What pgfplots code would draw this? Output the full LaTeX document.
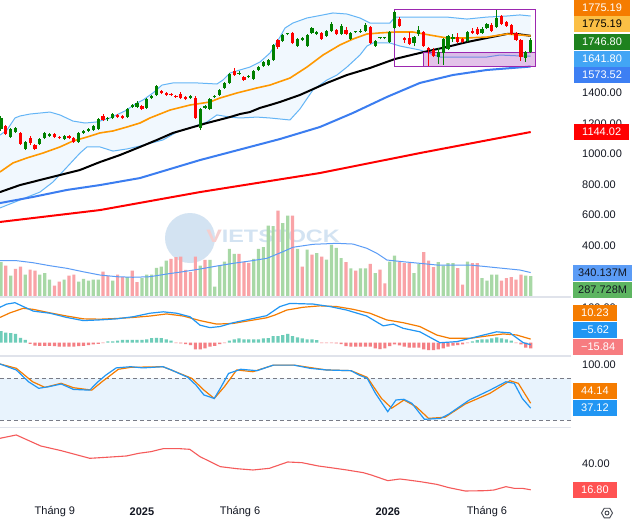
\documentclass[border=0pt]{standalone}
\usepackage{fontspec}
\setmainfont{Liberation Sans}
\usepackage{pgfplots}
\pgfplotsset{compat=1.18}
\usepackage{pgfplotstable}

\definecolor{cgreen}{HTML}{008000}
\definecolor{cred}{HTML}{FF0000}
\definecolor{bbline}{HTML}{64B5F6}
\definecolor{bbfill}{HTML}{F1F8FE}
\definecolor{maorange}{HTML}{FF9800}
\definecolor{mablue}{HTML}{3B7DF0}
\definecolor{mared}{HTML}{FF0000}
\definecolor{volg}{HTML}{A8D8A6}
\definecolor{volr}{HTML}{F9A3A7}
\definecolor{volma}{HTML}{5B9CF6}
\definecolor{histg}{HTML}{6ECDB9}
\definecolor{histr}{HTML}{F47F84}
\definecolor{macdb}{HTML}{2196F3}
\definecolor{macdo}{HTML}{F57C00}
\definecolor{stfill}{HTML}{E8F3FD}
\definecolor{rsired}{HTML}{F55A5A}
\definecolor{dashc}{HTML}{787B86}
\definecolor{sepc}{HTML}{E0E3EB}
\definecolor{tickc}{HTML}{131722}
\definecolor{purp}{HTML}{9C27B0}
\definecolor{lblyel}{HTML}{FBBF45}
\definecolor{lblgreen}{HTML}{1E821E}
\definecolor{lbllb}{HTML}{42A5F5}
\definecolor{lblblue}{HTML}{3D7FF3}
\definecolor{lblvol}{HTML}{5B9CF6}
\definecolor{lblvolg}{HTML}{5DB561}
\definecolor{lblpink}{HTML}{F77C80}
\definecolor{lblrsi}{HTML}{FF5252}
\definecolor{wmblue}{HTML}{D3E3F2}
\definecolor{wmred}{HTML}{F5CFCF}

\pgfplotstableread[row sep=\\]{
x o h l c\\
0 1164 1249 1151 1236\\
2 1111 1170 1105 1164\\
3 1144 1177 1138 1170\\
5 1033 1085 1026 1078\\
8 1065 1105 1059 1098\\
9 1105 1144 1098 1138\\
10 1118 1138 1111 1131\\
13 1098 1124 1092 1118\\
16 1078 1144 1072 1138\\
17 1138 1157 1131 1151\\
18 1151 1170 1144 1164\\
19 1157 1190 1151 1183\\
20 1164 1236 1157 1229\\
22 1229 1242 1216 1236\\
23 1236 1269 1229 1262\\
26 1242 1302 1236 1295\\
27 1308 1328 1302 1321\\
28 1308 1348 1302 1334\\
30 1302 1367 1295 1361\\
31 1367 1387 1361 1380\\
32 1387 1452 1380 1446\\
39 1367 1387 1361 1380\\
41 1170 1302 1157 1295\\
42 1302 1321 1295 1315\\
43 1295 1367 1288 1361\\
44 1371 1384 1365 1378\\
45 1387 1426 1380 1420\\
46 1433 1472 1426 1466\\
47 1466 1531 1459 1525\\
49 1525 1544 1518 1531\\
51 1503 1515 1498 1510\\
52 1492 1551 1485 1544\\
53 1551 1577 1544 1570\\
54 1577 1610 1570 1603\\
55 1584 1623 1577 1616\\
56 1616 1721 1610 1715\\
58 1741 1787 1734 1780\\
59 1784 1796 1778 1791\\
61 1708 1761 1702 1754\\
62 1748 1767 1741 1761\\
63 1708 1787 1702 1780\\
64 1794 1833 1787 1826\\
65 1787 1807 1780 1800\\
67 1774 1813 1767 1807\\
68 1807 1866 1800 1853\\
70 1787 1853 1780 1839\\
72 1754 1800 1748 1794\\
73 1797 1809 1792 1804\\
74 1800 1820 1794 1807\\
75 1807 1859 1800 1846\\
77 1708 1748 1702 1741\\
78 1758 1770 1752 1765\\
79 1758 1770 1752 1765\\
80 1734 1807 1728 1800\\
81 1826 1938 1820 1931\\
85 1728 1774 1708 1767\\
86 1787 1839 1774 1813\\
90 1636 1695 1590 1669\\
91 1662 1761 1584 1754\\
92 1689 1780 1682 1774\\
93 1754 1787 1734 1767\\
96 1741 1807 1734 1800\\
99 1794 1833 1787 1820\\
100 1826 1859 1820 1853\\
102 1833 1944 1826 1892\\
108 1630 1675 1603 1669\\
109 1669 1761 1662 1746.8\\
}\greencandles

\pgfplotstableread[row sep=\\]{
x o h l c\\
1 1183 1190 1124 1131\\
4 1138 1144 1059 1065\\
6 1105 1118 1059 1072\\
7 1059 1065 1026 1033\\
11 1131 1138 1105 1111\\
12 1112 1118 1100 1105\\
14 1118 1124 1098 1105\\
15 1105 1111 1072 1078\\
21 1249 1262 1216 1223\\
24 1256 1262 1236 1242\\
25 1249 1256 1229 1236\\
29 1315 1321 1288 1295\\
33 1413 1420 1393 1400\\
34 1400 1406 1380 1387\\
35 1394 1400 1380 1387\\
36 1382 1389 1370 1375\\
37 1393 1406 1361 1367\\
38 1374 1380 1354 1361\\
40 1367 1380 1229 1236\\
48 1544 1564 1512 1518\\
50 1505 1512 1479 1485\\
57 1748 1754 1689 1702\\
60 1794 1800 1721 1728\\
66 1794 1800 1748 1754\\
69 1813 1820 1780 1787\\
71 1813 1833 1780 1787\\
76 1833 1839 1721 1728\\
82 1885 1898 1833 1839\\
83 1761 1767 1728 1748\\
84 1761 1800 1715 1721\\
87 1800 1807 1702 1708\\
88 1695 1702 1577 1682\\
89 1682 1695 1636 1643\\
94 1767 1794 1728 1734\\
95 1754 1761 1728 1734\\
97 1807 1826 1787 1794\\
98 1820 1833 1780 1787\\
101 1846 1859 1800 1807\\
103 1905 1912 1846 1853\\
104 1866 1872 1833 1839\\
105 1846 1853 1780 1787\\
106 1794 1800 1741 1748\\
107 1748 1754 1610 1636\\
}\redcandles

\pgfplotstableread[row sep=\\]{
x y\\
-0.2 1124\\ 1.23 1157\\ 2.88 1236\\ 3.91 1249\\ 5.97 1262\\ 10.08 1275\\ 12.14 1256\\
14.81 1216\\ 17.28 1203\\ 19.75 1210\\ 22.43 1236\\ 25.51 1282\\ 27.98 1334\\ 29.22 1354\\
31.28 1400\\ 33.13 1452\\ 35.39 1466\\ 40.33 1466\\ 44.44 1459\\ 45.68 1485\\ 47.12 1531\\
49.18 1551\\ 51.23 1570\\ 53.29 1603\\ 55.35 1662\\ 57.41 1767\\ 58.44 1826\\ 60.08 1859\\
62.96 1892\\ 66.26 1912\\ 68.31 1925\\ 71.19 1918\\ 73.87 1892\\ 75.93 1859\\ 80.04 1859\\
81.07 1898\\ 84.77 1898\\ 91.77 1898\\ 95.88 1885\\ 100 1898\\ 104.1 1905\\ 106.79 1912\\ 109 1905\\
}\bbupper

\pgfplotstableread[row sep=\\]{
x y\\
-0.2 646\\ 3.91 698\\ 8.02 750\\ 10.7 816\\ 13.58 914\\ 16.26 1006\\ 17.7 1046\\ 20.37 1046\\
23.05 1019\\ 25.93 1033\\ 28.6 1052\\ 33.33 1092\\ 36.21 1144\\ 39.51 1177\\ 42.39 1210\\
44.44 1256\\ 47.12 1242\\ 49.18 1236\\ 52.67 1242\\ 55.35 1236\\ 59.47 1223\\ 61.52 1295\\
64.2 1420\\ 67.08 1485\\ 69.14 1518\\ 71.19 1570\\ 73.87 1649\\ 75.31 1708\\ 76.54 1728\\
80.04 1728\\ 82.1 1708\\ 86.21 1682\\ 90.33 1636\\ 95.06 1636\\ 100 1636\\ 102.67 1649\\
106.79 1643\\ 109 1641.8\\
}\bblower

\begin{document}
\begin{tikzpicture}[x=1pt,y=1pt]
\useasboundingbox (0,0) rectangle (641,-523);
\fill[white] (0,0) rectangle (641,-523);

% watermark
\fill[wmblue] (190,-238) circle (25);
\node[anchor=west, xscale=1.3, inner sep=0pt, font=\fontsize{18}{18}\selectfont\bfseries, text=wmblue] at (206,-236) {{\color{wmred}V}IETSTOCK};

\pgfplotsset{
  panel/.style={scale only axis, width=571pt, xmin=-0.2, xmax=117.3,
    axis line style={draw=none}, tick style={draw=none}, xtick=\empty,
    yticklabel pos=right,
    yticklabel style={anchor=west, inner sep=0pt, xshift=11pt, text=tickc,
      font=\fontsize{11}{13}\selectfont},
  },
}

% ---------- volume (behind) ----------
\begin{axis}[panel, at={(0pt,0pt)}, anchor=north west, height=297pt,
  ymin=-7.1, ymax=4210, ytick=\empty]
\addplot[ybar, bar width=3.2pt, bar shift=0pt, fill=volg, draw=none] coordinates {
(0,488)(2,298)(5,312)(8,312)(9,331)(10,241)(13,241)(16,213)(17,251)(18,227)(19,241)(20,241)
(23,227)(26,274)(29,260)(30,312)(31,312)(32,407)(33,426)(34,511)(41,440)(43,521)(44,142)
(45,440)(46,497)(47,677)(48,606)(52,535)(53,677)(54,701)(55,1008)(56,999)(58,1041)(59,1150)
(61,677)(63,667)(65,615)(67,525)(68,734)(69,691)(70,544)(72,398)(74,398)(75,398)(77,331)
(80,497)(81,582)(85,331)(86,464)(90,488)(91,440)(92,473)(93,473)(96,497)(99,260)(100,227)
(101,312)(102,312)(108,298)(109,287.7)};
\addplot[ybar, bar width=3.2pt, bar shift=0pt, fill=volr, draw=none] coordinates {
(1,440)(3,393)(4,426)(6,383)(7,369)(11,156)(12,213)(14,298)(15,312)(21,355)(22,288)(24,312)
(25,274)(27,369)(28,203)(35,535)(36,558)(37,568)(38,379)(39,345)(40,568)(42,521)(49,606)
(50,488)(51,478)(57,1221)(60,1150)(62,426)(64,596)(66,568)(71,488)(73,369)(76,464)(78,383)
(79,185)(82,488)(83,473)(84,473)(87,629)(88,511)(89,416)(94,402)(95,170)(97,473)(98,473)
(103,227)(104,260)(105,274)(106,241)(107,312)};
\addplot[volma, line width=1pt] coordinates {
(-0.2,508)(3.29,508)(6.58,480)(10.08,437)(13.58,400)(16.87,352)(20.37,305)(23.87,281)
(27.16,273)(30.66,281)(34.16,320)(37.45,352)(40.95,390)(44.44,433)(47.74,471)(51.23,504)
(54.73,542)(58.02,636)(60.08,699)(64.2,741)(69.14,755)(72.43,745)(75.31,684)(77.37,613)
(79.42,518)(82.72,494)(86.21,471)(89.71,447)(96.5,447)(100,423)(103.29,400)(106.79,376)
(109,340.137)};
\end{axis}

% ---------- main price panel ----------
\begin{axis}[panel, at={(0pt,0pt)}, anchor=north west, height=297pt,
  ymin=61.7, ymax=2010,
  ytick={400,600,800,1000,1200,1400},
  yticklabels={400.00,600.00,800.00,1000.00,1200.00,1400.00}]
% Bollinger band fill (upper band, then lower band reversed)
\addplot[fill=bbfill, draw=none] coordinates {
(-0.2,1124)(1.23,1157)(2.88,1236)(3.91,1249)(5.97,1262)(10.08,1275)(12.14,1256)
(14.81,1216)(17.28,1203)(19.75,1210)(22.43,1236)(25.51,1282)(27.98,1334)(29.22,1354)
(31.28,1400)(33.13,1452)(35.39,1466)(40.33,1466)(44.44,1459)(45.68,1485)(47.12,1531)
(49.18,1551)(51.23,1570)(53.29,1603)(55.35,1662)(57.41,1767)(58.44,1826)(60.08,1859)
(62.96,1892)(66.26,1912)(68.31,1925)(71.19,1918)(73.87,1892)(75.93,1859)(80.04,1859)
(81.07,1898)(84.77,1898)(91.77,1898)(95.88,1885)(100,1898)(104.1,1905)(106.79,1912)(109,1905)
(109,1641.8)(106.79,1643)(102.67,1649)(100,1636)(95.06,1636)(90.33,1636)(86.21,1682)
(82.1,1708)(80.04,1728)(76.54,1728)(75.31,1708)(73.87,1649)(71.19,1570)(69.14,1518)
(67.08,1485)(64.2,1420)(61.52,1295)(59.47,1223)(55.35,1236)(52.67,1242)(49.18,1236)
(47.12,1242)(44.44,1256)(42.39,1210)(39.51,1177)(36.21,1144)(33.33,1092)(28.6,1052)
(25.93,1033)(23.05,1019)(20.37,1046)(17.7,1046)(16.26,1006)(13.58,914)(10.7,816)
(8.02,750)(3.91,698)(-0.2,646)(-0.2,1124)};
\addplot[bbline, line width=1pt] table[x=x,y=y] {\bbupper};
\addplot[bbline, line width=1pt] table[x=x,y=y] {\bblower};
% MA200
\addplot[mared, line width=2pt] coordinates {(-0.2,554)(20.37,632)(40.95,750)(65.64,875)(86.21,1006)(109,1144.02)};
% MA100
\addplot[mablue, line width=2pt] coordinates {(-0.2,678)(6.58,718)(13.58,764)(20.37,796)(28.6,842)(40.95,960)(57.41,1098)(65.64,1177)(72.43,1269)(79.42,1374)(86.21,1466)(93,1518)(100,1551)(109,1573.52)};
% MA50
\addplot[black, line width=2pt] coordinates {(-0.2,750)(3.91,796)(8.02,829)(12.14,862)(16.26,895)(20.37,947)(24.49,993)(28.6,1046)(32.1,1092)(35.39,1138)(42.39,1203)(47.12,1242)(49.18,1262)(51.23,1275)(53.29,1302)(55.35,1321)(57.41,1341)(61.52,1387)(67.08,1466)(71.19,1518)(75.93,1564)(81.07,1623)(87.04,1669)(91.77,1702)(95.88,1734)(100,1761)(104.1,1787)(106.17,1787)(109,1775)};
% BB basis
\addplot[maorange, line width=1.6pt] coordinates {(-0.2,882)(2.47,941)(5.35,974)(8.64,1006)(12.14,1046)(14.81,1085)(17.7,1111)(20.37,1138)(23.05,1151)(25.93,1177)(28.6,1203)(30.66,1236)(34.77,1288)(38.89,1321)(43,1341)(45.06,1367)(48.56,1400)(52.67,1433)(55.35,1452)(59.47,1498)(62.96,1570)(66.26,1649)(69.75,1715)(72.43,1754)(75.31,1787)(77.98,1794)(81.07,1800)(84.77,1800)(88.27,1780)(91.77,1761)(95.88,1761)(100,1767)(104.1,1787)(109,1775.19)};
% drawings (rectangles)
\addplot[draw=purp, fill=purp, fill opacity=0.28, line width=1pt] coordinates {(87.04,1667)(110.08,1667)(110.08,1577)(87.04,1577)(87.04,1667)};
\addplot[draw=purp, line width=1pt] coordinates {(81.07,1949)(110.08,1949)(110.08,1577)(81.07,1577)(81.07,1949)};
% candles: wicks (low -> high)
\addplot[cgreen, line width=1pt, mark=none, quiver={u=0, v=\thisrow{h}-\thisrow{l}}]
  table[x=x, y=l] {\greencandles};
\addplot[cred, line width=1pt, mark=none, quiver={u=0, v=\thisrow{h}-\thisrow{l}}]
  table[x=x, y=l] {\redcandles};
% candles: bodies (open -> close)
\addplot[cgreen, line width=3.2pt, mark=none, quiver={u=0, v=\thisrow{c}-\thisrow{o}}]
  table[x=x, y=o] {\greencandles};
\addplot[cred, line width=3.2pt, mark=none, quiver={u=0, v=\thisrow{c}-\thisrow{o}}]
  table[x=x, y=o] {\redcandles};
\end{axis}

% ---------- MACD ----------
\begin{axis}[panel, at={(0pt,-297pt)}, anchor=north west, height=59pt,
  ymin=-37.9, ymax=130.2, ytick={100}, yticklabels={100.00}]
\addplot[ybar, bar width=3.2pt, bar shift=0pt, fill=histg, draw=none] coordinates {
(0,33)(1,28.5)(2,27)(3,25)(4,14)(5,8)(22,4)(23,4)(24,6)(25,8)(26,8)(27,8)(28,8)(29,8)(30,9.5)
(31,13)(32,14)(33,13)(34,9.5)(35,6)(47,6)(48,9.5)(49,12)(50,9.5)(51,9.5)(52,9.5)(53,9.5)
(54,12)(55,13)(56,19)(57,19)(58,21.6)(59,25)(60,19)(61,15)(62,12)(63,9.5)(64,9.5)(65,7.6)
(97,4)(98,7.6)(99,9.5)(100,9.5)(101,12)(102,15)(103,12)(104,9.5)(105,5.7)};
\addplot[ybar, bar width=3.2pt, bar shift=0pt, fill=histr, draw=none] coordinates {
(6,-3)(7,-8)(8,-9)(9,-9)(10,-9)(11,-10)(12,-11)(13,-11)(14,-11)(15,-11)(16,-10)(17,-9)(18,-7)
(19,-5)(20,-3)(21,-1)(36,-1)(37,-2)(38,-4)(39,-7)(40,-19)(41,-19)(42,-16)(43,-11)(44,-9)(45,-4)
(46,-1)(66,-1)(67,-1)(68,-1)(69,-2)(70,-4)(71,-9.5)(72,-11)(73,-11)(74,-11)(75,-11)(76,-11)
(77,-16)(78,-18)(79,-16)(80,-9.5)(81,-4.7)(82,-7.6)(83,-11)(84,-14)(85,-14)(86,-14)(87,-19)
(88,-21)(89,-21)(90,-19)(91,-16)(92,-11)(93,-8.5)(94,-6.6)(95,-4.7)(96,-1)(106,-1)(107,-4.7)
(108,-14)(109,-15.84)};
\addplot[macdo, line width=1.2pt] coordinates {(-0.2,72)(1.85,85)(4.59,98)(6.65,95)(10.08,85)(13.52,76)(16.93,68)(20.37,67)(23.81,69)(27.22,72)(30.66,76)(34.1,82)(37.51,76)(40.95,63)(44.38,53)(47.8,55)(51.23,63)(54.67,71)(56.4,79)(58.8,93)(62.2,101)(65.64,105)(69.08,103)(72.5,95)(75.93,84)(79.36,65)(82.78,57)(86.21,46)(89.65,22)(92.39,12.5)(96.5,12.5)(99.93,19)(103.35,25)(106.1,22)(109,10.23)};
\addplot[macdb, line width=1.2pt] coordinates {(-0.2,101)(1.17,110)(2.88,114)(4.59,103)(6.65,90)(10.08,84)(13.52,72)(16.93,63)(20.37,65)(23.81,68)(27.22,74)(30.66,84)(33.4,88)(36.15,84)(38.89,74)(40.95,50)(43,43)(45.06,46)(47.8,57)(51.23,67)(54.67,77)(57.41,103)(59.47,112)(64.26,110)(67.7,103)(71.13,93)(75.25,76)(78.66,48)(80.72,53)(82.78,41)(86.21,31)(90.33,0)(93.77,3)(97.88,17)(102,31)(104.73,28)(107.47,0)(109,-5.62)};
\end{axis}

% ---------- Stochastic ----------
\begin{axis}[panel, at={(0pt,-356pt)}, anchor=north west, height=71.3pt,
  ymin=9.5, ymax=112.1, ytick={100}, yticklabels={100.00}]
\addplot[fill=stfill, draw=none] coordinates {(-0.2,20)(117.3,20)(117.3,80)(-0.2,80)(-0.2,20)};
\addplot[dashc, line width=0.8pt, dash pattern=on 4pt off 3pt] coordinates {(-0.2,80)(117.3,80)};
\addplot[dashc, line width=0.8pt, dash pattern=on 4pt off 3pt] coordinates {(-0.2,20)(117.3,20)};
\addplot[macdo, line width=1.2pt] coordinates {(-0.2,100.6)(3.15,94.4)(6.52,75)(9.03,67)(12.39,72.8)(14.92,66.5)(18.68,63)(20.78,75)(24.16,93)(26.67,95.8)(33.33,96.7)(35.9,89.5)(39.26,80)(41.77,63)(43.89,51)(45.99,68)(48.5,92)(51.85,89.5)(56.07,99)(60.29,99)(66.98,92)(72.02,91)(75.37,81.4)(78.31,51)(80.41,37)(82.92,48.8)(85.45,39)(87.98,22.4)(91.36,23.9)(95.53,43)(100.62,58.4)(104.73,76.5)(106.46,72.8)(109,44.14)};
\addplot[macdb, line width=1.2pt] coordinates {(-0.2,100.6)(3.15,92)(5.68,75)(7.78,65.6)(9.88,68)(12.39,71.8)(14.92,64)(18.27,63)(19.96,75)(21.6,84.7)(23.72,95)(26.67,96.7)(29.2,95)(33.33,96.7)(35.06,92)(38.44,81.4)(40.12,70.4)(41.77,56)(43.89,51)(45.14,65.6)(46.83,87)(49.34,93)(52.67,91)(56.07,99)(60.29,99)(63.58,94.4)(66.98,92)(72.02,91)(73.66,84.7)(75.37,80)(77.06,58.4)(79.59,32)(81.28,48.8)(82.92,49.8)(84.57,44)(87.14,21)(90.49,22.4)(92.18,28.6)(96.38,48.8)(100.62,63)(103.91,75)(105.62,72.8)(107.28,51)(109,37.12)};
\end{axis}

% ---------- RSI-like ----------
\begin{axis}[panel, at={(0pt,-427.3pt)}, anchor=north west, height=72.7pt,
  ymin=7.6, ymax=73.0, ytick={40}, yticklabels={40.00},
  xtick={11.1,29,49.2,79.6,100},
  xticklabels={Tháng 9,\textbf{2025},Tháng 6,\textbf{2026},Tháng 6},
  xticklabel style={anchor=center, yshift=-12pt, text=tickc, font=\fontsize{11}{13}\selectfont}]
\addplot[rsired, line width=1.1pt] coordinates {(-0.2,63.1)(3.15,66.1)(8.19,56.2)(12.39,52)(18.27,45.1)(21.6,46)(25.82,47.2)(28.35,49.6)(30.86,51.1)(33.39,53.8)(36.75,53.8)(38.85,53.2)(40.95,46.6)(45.14,37.6)(48.5,35.8)(51.85,34.6)(55.23,36.1)(59.01,41.8)(61.93,41.2)(65.31,38.2)(67.82,36.7)(71.19,34.6)(74.55,32.2)(76.21,30.1)(79.59,25)(82.1,26.5)(83.74,25.6)(86.29,24.1)(89.65,21.7)(92.18,18.7)(95.53,15.7)(99.73,16)(101.44,16.6)(103.91,19.6)(105.62,18.1)(107.28,18.1)(109,16.8)};
\end{axis}

% panel separators
\draw[sepc, line width=1.2pt] (0,-297) -- (571,-297);
\draw[sepc, line width=1.2pt] (0,-356) -- (571,-356);
\draw[sepc, line width=1.2pt] (0,-427.3) -- (571,-427.3);

% right-side value labels
\tikzset{lbl/.style={anchor=west, inner xsep=8pt, inner ysep=0pt, minimum height=16pt,
  font=\fontsize{11}{13}\selectfont, text=white}}
\node[lbl, fill=macdo] at (574,-7.5) {1775.19};
\node[lbl, fill=lblyel, text=black] at (574,-23.5) {1775.19};
\node[lbl, fill=lblgreen] at (574,-42) {1746.80};
\node[lbl, fill=lbllb] at (574,-59) {1641.80};
\node[lbl, fill=lblblue] at (574,-75) {1573.52};
\node[lbl, fill=mared] at (574,-132) {1144.02};
\node[lbl, fill=lblvol, text=tickc, inner xsep=5pt] at (573,-272.5) {340.137M};
\node[lbl, fill=lblvolg, text=tickc, inner xsep=5pt] at (573,-289.5) {287.728M};
\node[lbl, fill=macdo] at (573,-313) {10.23};
\node[lbl, fill=macdb] at (573,-330) {−5.62};
\node[lbl, fill=lblpink] at (573,-347) {−15.84};
\node[lbl, fill=macdo] at (573,-391) {44.14};
\node[lbl, fill=macdb] at (573,-408) {37.12};
\node[lbl, fill=lblrsi] at (573,-490) {16.80};

% settings icon
\draw[tickc!80, line width=0.9pt] (612.5,-513) -- (609.75,-508.2) -- (604.25,-508.2) -- (601.5,-513) -- (604.25,-517.8) -- (609.75,-517.8) -- cycle;
\draw[tickc!80, line width=0.9pt] (607,-513) circle (2);
\end{tikzpicture}
\end{document}
